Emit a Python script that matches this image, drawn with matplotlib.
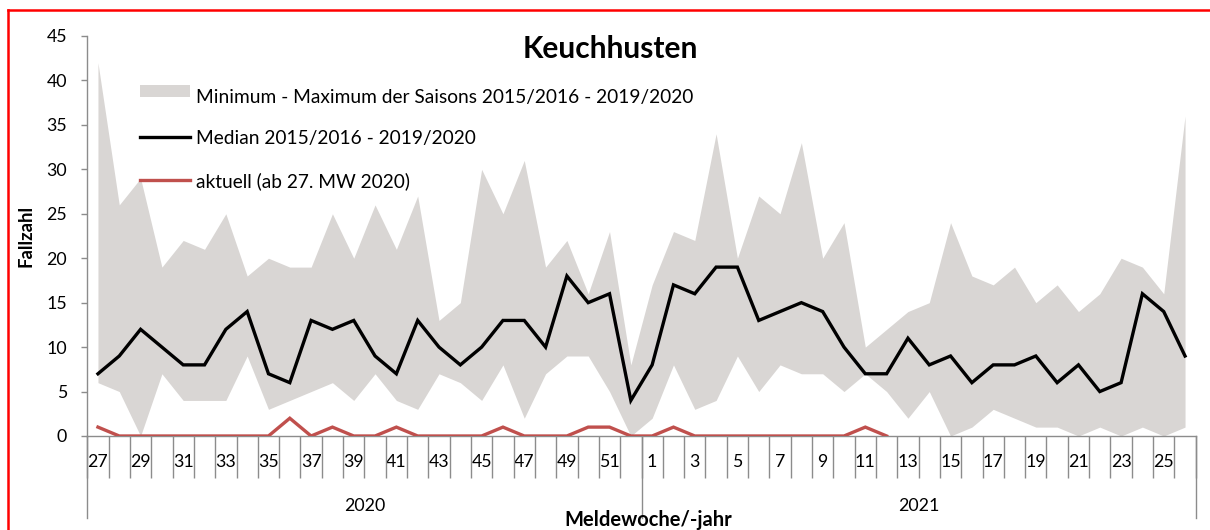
import matplotlib
matplotlib.use("Agg")
import matplotlib.pyplot as plt
from matplotlib.lines import Line2D
from matplotlib.patches import Rectangle
import matplotlib.transforms as mtransforms

# ---------------- data ----------------
weeks = [27, 28, 29, 30, 31, 32, 33, 34, 35, 36, 37, 38, 39, 40, 41, 42, 43, 44, 45, 46, 47, 48, 49, 50, 51, 52,
         1, 2, 3, 4, 5, 6, 7, 8, 9, 10, 11, 12, 13, 14, 15, 16, 17, 18, 19, 20, 21, 22, 23, 24, 25, 26]
years = ["2020", "2021"]
weeks_per_year = [26, 26]

max_vals = [42, 26, 29, 19, 22, 21, 25, 18, 20, 19, 19, 25, 20, 26, 21, 27, 13, 15, 30, 25, 31, 19, 22, 16, 23, 8,
            17, 23, 22, 34, 20, 27, 25, 33, 20, 24, 10, 12, 14, 15, 24, 18, 17, 19, 15, 17, 14, 16, 20, 19, 16, 36]
min_vals = [6, 5, 0, 7, 4, 4, 4, 9, 3, 4, 5, 6, 4, 7, 4, 3, 7, 6, 4, 8, 2, 7, 9, 9, 5, 0,
            2, 8, 3, 4, 9, 5, 8, 7, 7, 5, 7, 5, 2, 5, 0, 1, 3, 2, 1, 1, 0, 1, 0, 1, 0, 1]
median_vals = [7, 9, 12, 10, 8, 8, 12, 14, 7, 6, 13, 12, 13, 9, 7, 13, 10, 8, 10, 13, 13, 10, 18, 15, 16, 4,
               8, 17, 16, 19, 19, 13, 14, 15, 14, 10, 7, 7, 11, 8, 9, 6, 8, 8, 9, 6, 8, 5, 6, 16, 14, 9]
current_vals = [1, 0, 0, 0, 0, 0, 0, 0, 0, 2, 0, 1, 0, 0, 1, 0, 0, 0, 0, 1, 0, 0, 0, 1, 1, 0,
                0, 1, 0, 0, 0, 0, 0, 0, 0, 0, 1, 0]

title = "Keuchhusten"
label_band = "Minimum - Maximum der Saisons 2015/2016 - 2019/2020"
label_median = "Median 2015/2016 - 2019/2020"
label_current = "aktuell (ab 27. MW 2020)"
ylabel = "Fallzahl"
xlabel = "Meldewoche/-jahr"

# ---------------- style ----------------
W, H = 1210, 530
FONT = ["Lato", "DejaVu Sans"]
plt.rcParams["font.family"] = FONT
BAND = "#D9D6D4"
RED = "#C0504D"
GRAY = "#8C8C8C"
TICK_FS = 12.8

fig = plt.figure(figsize=(W / 100, H / 100), dpi=100)


def fx(x):
    return x / W


def fy(y):
    return 1 - y / H


ax_l, ax_r, ax_t, ax_b = 87.3, 1195.7, 36, 436
ax = fig.add_axes([fx(ax_l), fy(ax_b), (ax_r - ax_l) / W, (ax_b - ax_t) / H])

x = list(range(len(weeks)))
ax.fill_between(x, min_vals, max_vals, color=BAND, linewidth=0, zorder=1)
ax.plot(x, median_vals, color="black", lw=2.4, zorder=3, solid_joinstyle="miter")
ax.plot(list(range(len(current_vals))), current_vals, color=RED, lw=2.4, zorder=4,
        solid_joinstyle="miter")

ax.set_xlim(-0.5, len(weeks) - 0.5)
ax.set_ylim(0, 45)
ax.set_yticks(range(0, 46, 5))
ax.tick_params(axis="y", direction="out", length=4.5, width=1, color=GRAY,
               labelsize=TICK_FS, pad=10, labelcolor="black")

# x ticks: labels at odd weeks, boundary tick lines
lab_idx = [i for i, w in enumerate(weeks) if w % 2 == 1]
ax.set_xticks(lab_idx)
ax.set_xticklabels([str(weeks[i]) for i in lab_idx])
ax.tick_params(axis="x", which="major", length=0, labelsize=TICK_FS, pad=13)
ax.set_xticks([i - 0.5 for i in range(len(weeks) + 1)], minor=True)
ax.tick_params(axis="x", which="minor", direction="out", length=30, width=1, color=GRAY)

for s in ["top", "right"]:
    ax.spines[s].set_visible(False)
for s in ["left", "bottom"]:
    ax.spines[s].set_color(GRAY)
    ax.spines[s].set_linewidth(1)

# year separators and labels
trans = mtransforms.blended_transform_factory(ax.transData, ax.transAxes)
sep_depth = (518 - ax_b) / (ax_b - ax_t)
bounds = [-0.5]
for n in weeks_per_year:
    bounds.append(bounds[-1] + n)
for b in bounds:
    ax.plot([b, b], [0, -sep_depth], transform=trans, color=GRAY, lw=1, clip_on=False)
for i, yr in enumerate(years):
    ax.text((bounds[i] + bounds[i + 1]) / 2, -(506 - ax_b) / (ax_b - ax_t), yr,
            transform=trans, ha="center", va="center", fontsize=TICK_FS)

# axis titles
fig.text(fx(648), fy(520), xlabel, ha="center", va="center", fontsize=14.5, fontweight="bold")
fig.text(fx(26), fy(236), ylabel, ha="center", va="center", rotation=90, fontsize=13.3,
         fontweight="bold")

# title
fig.text(fx(610), fy(49), title, ha="center", va="center", fontsize=21.5, fontweight="bold")

# legend (manual)
fig.add_artist(Rectangle((fx(140), fy(97)), fx(50), (97 - 85) / H, transform=fig.transFigure,
                         facecolor=BAND, edgecolor="none"))
fig.add_artist(Line2D([fx(140), fx(190)], [fy(137), fy(137)], transform=fig.transFigure,
                      color="black", lw=2.4))
fig.add_artist(Line2D([fx(140), fx(190)], [fy(180), fy(180)], transform=fig.transFigure,
                      color=RED, lw=2.4))
for txt, yb in [(label_band, 103), (label_median, 144), (label_current, 187)]:
    fig.text(fx(196), fy(yb), txt, ha="left", va="baseline", fontsize=13.8)

# red frame (top and left)
fig.add_artist(Line2D([fx(8), fx(W + 5)], [fy(10), fy(10)], transform=fig.transFigure,
                      color="red", lw=1.8))
fig.add_artist(Line2D([fx(8), fx(8)], [fy(10), fy(H + 5)], transform=fig.transFigure,
                      color="red", lw=1.8))

fig.savefig("out.png", dpi=100)
